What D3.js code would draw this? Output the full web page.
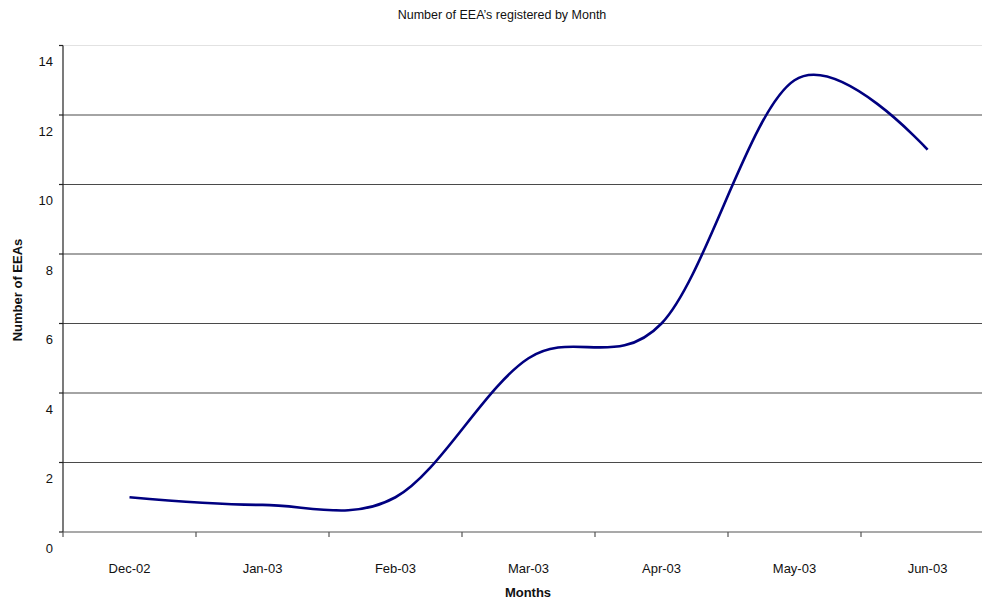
<!DOCTYPE html>
<html>
<head>
    <meta charset="utf-8">
    <style>
        html, body {
            margin: 0;
            padding: 0;
            background: #fff;
        }

        svg {
            display: block;
            font-family: "Liberation Sans", Arial, sans-serif;
        }
    </style>
</head>
<body>
<div id="chart"></div>
<script src="https://cdn.jsdelivr.net/npm/d3@7"></script>
<script>
    "use strict";

    const WIDTH = 982;
    const HEIGHT = 602;

    const months = ["Dec-02", "Jan-03", "Feb-03", "Mar-03", "Apr-03", "May-03", "Jun-03"];
    const registered = [1, 0.78, 1, 5, 6, 13, 11];
    const yTicks = [0, 2, 4, 6, 8, 10, 12, 14];

    const plot = {left: 63, right: 994, top: 45.5, bottom: 532};

    const svg = d3.select("#chart").append("svg")
        .attr("width", WIDTH)
        .attr("height", HEIGHT);

    const x = d3.scaleBand()
        .domain(months)
        .range([plot.left, plot.right])
        .padding(0);

    const y = d3.scaleLinear()
        .domain([0, 14])
        .range([plot.bottom, plot.top]);

    // gridlines
    svg.append("g")
        .selectAll("line")
        .data(yTicks.filter(function (d) { return d > 0; }))
        .enter()
        .append("line")
        .attr("x1", plot.left)
        .attr("x2", WIDTH)
        .attr("y1", function (d) { return y(d); })
        .attr("y2", function (d) { return y(d); })
        .style("stroke", function (d) { return d === 14 ? "#e2e2e2" : "#4a4a4a"; })
        .style("stroke-width", 1.2);

    // y axis
    const yAxis = svg.append("g");
    yAxis.append("line")
        .attr("x1", plot.left).attr("x2", plot.left)
        .attr("y1", plot.top).attr("y2", plot.bottom)
        .style("stroke", "#222").style("stroke-width", 1.2);
    yAxis.selectAll("line.tick")
        .data(yTicks)
        .enter()
        .append("line")
        .attr("class", "tick")
        .attr("x1", plot.left - 4).attr("x2", plot.left)
        .attr("y1", function (d) { return y(d); })
        .attr("y2", function (d) { return y(d); })
        .style("stroke", "#222").style("stroke-width", 1.2);
    yAxis.selectAll("text")
        .data(yTicks)
        .enter()
        .append("text")
        .attr("x", 53)
        .attr("y", function (d) { return y(d) + 16; })
        .attr("dy", "0.35em")
        .attr("text-anchor", "end")
        .style("font-size", "13px")
        .style("fill", "#111")
        .text(function (d) { return d; });

    // x axis
    const xAxis = svg.append("g");
    xAxis.append("line")
        .attr("x1", plot.left).attr("x2", WIDTH)
        .attr("y1", plot.bottom).attr("y2", plot.bottom)
        .style("stroke", "#555").style("stroke-width", 1.2);
    xAxis.selectAll("line.tick")
        .data(months)
        .enter()
        .append("line")
        .attr("class", "tick")
        .attr("x1", function (d) { return x(d); })
        .attr("x2", function (d) { return x(d); })
        .attr("y1", plot.bottom).attr("y2", plot.bottom + 5)
        .style("stroke", "#555").style("stroke-width", 1.2);
    xAxis.selectAll("text")
        .data(months)
        .enter()
        .append("text")
        .attr("x", function (d) { return x(d) + x.bandwidth() / 2; })
        .attr("y", 568)
        .attr("dy", "0.35em")
        .attr("text-anchor", "middle")
        .style("font-size", "13px")
        .style("fill", "#111")
        .text(function (d) { return d; });

    // smoothed line (uniform Catmull-Rom, close to Excel's smoothing)
    const line = d3.line()
        .x(function (d, i) { return x(months[i]) + x.bandwidth() / 2; })
        .y(function (d) { return y(d); })
        .curve(d3.curveCatmullRom.alpha(0));

    svg.append("path")
        .datum(registered)
        .attr("d", line)
        .style("fill", "none")
        .style("stroke", "#000080")
        .style("stroke-width", 2.6);

    // titles
    svg.append("text")
        .attr("x", 502).attr("y", 15)
        .attr("dy", "0.35em")
        .attr("text-anchor", "middle")
        .style("font-size", "12.5px")
        .style("fill", "#111")
        .text("Number of EEA\u2019s registered by Month");

    svg.append("text")
        .attr("x", 528).attr("y", 592)
        .attr("dy", "0.35em")
        .attr("text-anchor", "middle")
        .style("font-size", "13px")
        .style("font-weight", "bold")
        .style("fill", "#111")
        .text("Months");

    svg.append("text")
        .attr("transform", "translate(17,290) rotate(-90)")
        .attr("dy", "0.35em")
        .attr("text-anchor", "middle")
        .style("font-size", "13px")
        .style("font-weight", "bold")
        .style("fill", "#111")
        .text("Number of EEAs");
</script>
</body>
</html>
